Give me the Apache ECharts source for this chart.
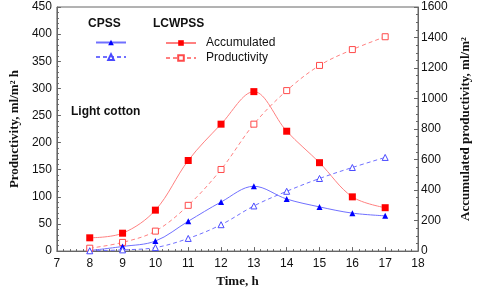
<!DOCTYPE html>
<html><head><meta charset="utf-8">
<script src="https://cdn.jsdelivr.net/npm/echarts@6/dist/echarts.min.js"></script>
<style>html,body{margin:0;padding:0;background:#fff}#c{width:480px;height:293px}</style>
</head><body><div id="c"></div>
<script>
var hours = [8, 9, 10, 11, 12, 13, 14, 15, 16, 17];
// solid lines (left axis)
var lcwpssSolid = [24.5, 33, 75.5, 167, 234, 294, 221, 163, 100, 80];
var cpssSolid = [1, 8.5, 18.5, 55, 90.5, 119.5, 96, 81.5, 70, 65];
// dashed lines (right axis)
var lcwpssDashed = [19, 57, 131, 300, 535, 832, 1052, 1217, 1321, 1405];
var cpssDashed = [2, 8, 23, 83, 173, 296, 392, 476, 548, 614];
var xTicks = [7, 18];
var leftTicks = [0, 450];
var rightTicks = [0, 1600];

function pairs(v){ return hours.map(function(h,i){ return [h, v[i]]; }); }
var RED='#ff0000', REDL='#ff8080', REDM='#ff4a4a', BLUE='#0000ff', BLUEL='#7070ff', BLUEM='#4a4aff';
var lab = {color:'#111', fontFamily:'Liberation Sans, Arial', fontSize:12};
var axLine = {show:true, lineStyle:{color:'#666', width:1}};
var nameStyle = {fontFamily:'Liberation Serif', fontWeight:'bold', fontSize:13, color:'#111'};
var chart = echarts.init(document.getElementById('c'));
chart.setOption({
  animation:false,
  grid:{left:49, right:48, top:7, bottom:34, show:true, borderColor:'#666', borderWidth:1},
  xAxis:{type:'value', min:xTicks[0], max:xTicks[1], interval:1,
    name:'Time, h', nameLocation:'middle', nameGap:22, nameTextStyle:nameStyle,
    axisLine:axLine, axisTick:{inside:true, length:4, lineStyle:{color:'#666'}},
    minorTick:{show:true, splitNumber:5, length:2, lineStyle:{color:'#666'}},
    splitLine:{show:false}, axisLabel:Object.assign({margin:7}, lab)},
  yAxis:[
    {type:'value', min:leftTicks[0], max:leftTicks[1], interval:50,
     name:'Productivity, ml/m² h', nameLocation:'middle', nameGap:34, nameTextStyle:nameStyle,
     axisLine:axLine, axisTick:{inside:true, length:4, lineStyle:{color:'#666'}},
     minorTick:{show:true, splitNumber:5, length:2, lineStyle:{color:'#666'}},
     splitLine:{show:false}, axisLabel:Object.assign({margin:5}, lab)},
    {type:'value', min:rightTicks[0], max:rightTicks[1], interval:200, position:'right',
     name:'Accumulated productivity, ml/m²', nameLocation:'middle', nameGap:41, nameRotate:90,
     nameTextStyle:nameStyle,
     axisLine:axLine, axisTick:{inside:true, length:4, lineStyle:{color:'#666'}},
     minorTick:{show:true, splitNumber:4, length:2, lineStyle:{color:'#666'}},
     splitLine:{show:false},
     axisLabel:Object.assign({margin:3, formatter:function(v){return String(v);}}, lab)}
  ],
  legend:[
    {left:95, top:39, orient:'vertical', padding:0, itemWidth:30, itemHeight:7, itemGap:8,
     data:['CPSS A','CPSS P'], formatter:function(){return '';},
     textStyle:{fontSize:1}},
    {left:165, top:36, orient:'vertical', padding:0, itemWidth:30, itemHeight:7, itemGap:1,
     data:['Accumulated','Productivity'],
     textStyle:{color:'#111', fontFamily:'Liberation Sans, Arial', fontSize:12, lineHeight:14, padding:[0,0,0,5]}}
  ],
  graphic:[
    {type:'text', left:88, top:18, style:{text:'CPSS', font:'bold 12px Liberation Sans, Arial', fill:'#111'}},
    {type:'text', left:153, top:18, style:{text:'LCWPSS', font:'bold 12px Liberation Sans, Arial', fill:'#111'}},
    {type:'text', left:71, top:106, style:{text:'Light cotton', font:'bold 12px Liberation Sans, Arial', fill:'#111'}}
  ],
  series:[
    {name:'Accumulated', type:'line', yAxisIndex:0, data:pairs(lcwpssSolid), smooth:0.35,
     symbol:'rect', symbolSize:7, itemStyle:{color:RED}, lineStyle:{color:REDL, width:1}},
    {name:'Productivity', type:'line', yAxisIndex:1, data:pairs(lcwpssDashed), smooth:0.35,
     symbol:'rect', symbolSize:6, itemStyle:{color:'#ffffff', borderColor:REDM, borderWidth:1}, lineStyle:{color:REDL, width:1, type:[4,3]}},
    {name:'CPSS A', type:'line', yAxisIndex:0, data:pairs(cpssSolid), smooth:0.35,
     symbol:'triangle', symbolSize:6, itemStyle:{color:BLUE}, lineStyle:{color:BLUEL, width:1}},
    {name:'CPSS P', type:'line', yAxisIndex:1, data:pairs(cpssDashed), smooth:0.35,
     symbol:'triangle', symbolSize:6, itemStyle:{color:'#ffffff', borderColor:BLUEM, borderWidth:1}, lineStyle:{color:BLUEL, width:1, type:[4,3]}}
  ]
});
</script></body></html>
